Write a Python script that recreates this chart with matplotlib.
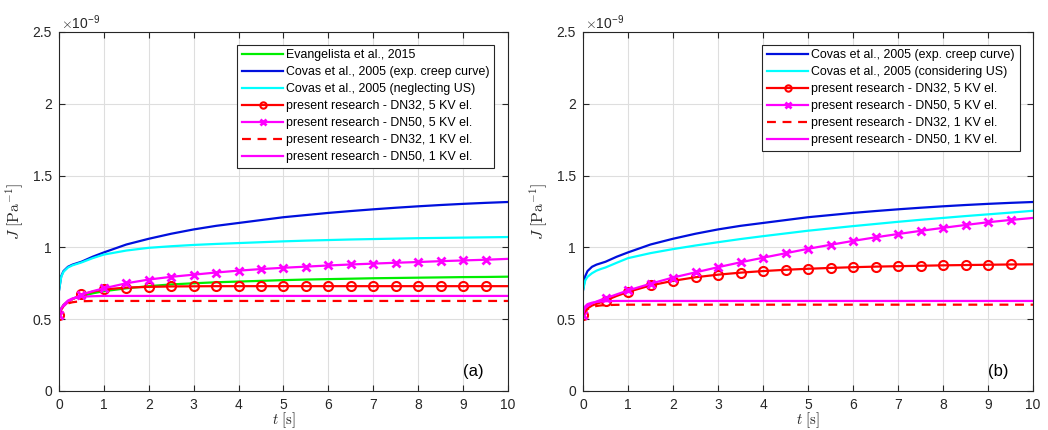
import numpy as np
import matplotlib.pyplot as plt

plt.rcParams['font.family'] = ['Liberation Sans', 'DejaVu Sans']
plt.rcParams['mathtext.fontset'] = 'cm'

# time samples [s]; compliance values in units of 1e-9 Pa^-1
t = [0, 0.05, 0.1, 0.2, 0.3, 0.4, 0.5, 0.75, 1.0, 1.5, 2.0, 2.5, 3.0, 3.5, 4.0,
     4.5, 5.0, 5.5, 6.0, 6.5, 7.0, 7.5, 8.0, 8.5, 9.0, 9.5, 10.0]
# markers every half second
mark_idx = [0, 6, 8, 9, 10, 11, 12, 13, 14, 15, 16, 17, 18, 19, 20, 21, 22, 23, 24, 25]

covas_exp = [0.70, 0.80, 0.835, 0.865, 0.88, 0.89, 0.90, 0.935, 0.965, 1.02, 1.06, 1.095,
             1.125, 1.15, 1.17, 1.19, 1.21, 1.225, 1.24, 1.253, 1.265, 1.276, 1.286,
             1.295, 1.303, 1.31, 1.316]

# panel (a)
evang_a = [0.53, 0.575, 0.60, 0.625, 0.64, 0.652, 0.66, 0.68, 0.695, 0.715, 0.73, 0.742,
           0.75, 0.757, 0.762, 0.767, 0.772, 0.776, 0.779, 0.782, 0.785, 0.787, 0.789,
           0.791, 0.793, 0.794, 0.796]
covas_neg_a = [0.70, 0.795, 0.83, 0.86, 0.875, 0.885, 0.895, 0.925, 0.95, 0.978, 0.997,
               1.008, 1.017, 1.024, 1.03, 1.036, 1.042, 1.047, 1.051, 1.055, 1.058, 1.061,
               1.064, 1.066, 1.068, 1.07, 1.072]
dn32_5_a = [0.53, 0.57, 0.59, 0.62, 0.64, 0.655, 0.672, 0.692, 0.707, 0.72, 0.725, 0.728,
            0.729, 0.73, 0.73, 0.73, 0.73, 0.73, 0.73, 0.73, 0.73, 0.73, 0.73, 0.73,
            0.73, 0.73, 0.73]
dn50_5_a = [0.53, 0.57, 0.59, 0.62, 0.64, 0.655, 0.67, 0.695, 0.715, 0.75, 0.776, 0.795,
            0.81, 0.825, 0.838, 0.849, 0.858, 0.866, 0.874, 0.881, 0.887, 0.893, 0.898,
            0.904, 0.909, 0.914, 0.92]
dn32_1_a = [0.53, 0.57, 0.59, 0.61, 0.618, 0.622, 0.625, 0.627, 0.627, 0.627, 0.627, 0.627,
            0.627, 0.627, 0.627, 0.627, 0.627, 0.627, 0.627, 0.627, 0.627, 0.627, 0.627,
            0.627, 0.627, 0.627, 0.627]
dn50_1_a = [0.53, 0.575, 0.60, 0.63, 0.645, 0.652, 0.656, 0.66, 0.662, 0.662, 0.662, 0.662,
            0.662, 0.662, 0.662, 0.662, 0.662, 0.662, 0.662, 0.662, 0.662, 0.662, 0.662,
            0.662, 0.662, 0.662, 0.662]

# panel (b)
covas_us_b = [0.70, 0.77, 0.795, 0.82, 0.838, 0.85, 0.86, 0.893, 0.925, 0.96, 0.988, 1.013,
              1.036, 1.058, 1.078, 1.097, 1.116, 1.132, 1.148, 1.163, 1.178, 1.192, 1.205,
              1.218, 1.23, 1.242, 1.255]
dn32_5_b = [0.53, 0.56, 0.575, 0.595, 0.607, 0.618, 0.63, 0.662, 0.69, 0.735, 0.767, 0.792,
            0.81, 0.824, 0.835, 0.844, 0.851, 0.857, 0.862, 0.866, 0.869, 0.872, 0.875,
            0.877, 0.879, 0.881, 0.882]
dn50_5_b = [0.53, 0.57, 0.59, 0.61, 0.623, 0.635, 0.645, 0.673, 0.70, 0.747, 0.79, 0.826,
            0.862, 0.896, 0.928, 0.959, 0.99, 1.018, 1.045, 1.07, 1.093, 1.115, 1.136,
            1.156, 1.175, 1.191, 1.205]
dn32_1_b = [0.53, 0.555, 0.57, 0.585, 0.592, 0.596, 0.598, 0.6, 0.601, 0.601, 0.601, 0.601,
            0.601, 0.601, 0.601, 0.601, 0.601, 0.601, 0.601, 0.601, 0.601, 0.601, 0.601,
            0.601, 0.601, 0.601, 0.601]
dn50_1_b = [0.53, 0.59, 0.605, 0.615, 0.62, 0.623, 0.625, 0.627, 0.627, 0.627, 0.627, 0.627,
            0.627, 0.627, 0.627, 0.627, 0.627, 0.627, 0.627, 0.627, 0.627, 0.627, 0.627,
            0.627, 0.627, 0.627, 0.627]

BLUE = '#0010dd'
CYAN = '#00ffff'
GREEN = '#00ee00'
RED = '#ff0000'
MAG = '#ff00ff'
AXC = '0.15'

fig = plt.figure(figsize=(10.48, 4.3), dpi=100)
axa = fig.add_axes([0.0563, 0.0907, 0.4284, 0.835])
axb = fig.add_axes([0.5563, 0.0907, 0.4294, 0.835])

lw = 1.6
circ = dict(marker='o', markersize=6.5, markerfacecolor='none', markeredgewidth=1.5,
            markevery=mark_idx)
cross = dict(marker='x', markersize=5.5, markeredgewidth=2.0, markevery=mark_idx)

axa.plot(t, evang_a, color=GREEN, lw=lw, label='Evangelista et al., 2015')
axa.plot(t, covas_exp, color=BLUE, lw=lw, label='Covas et al., 2005 (exp. creep curve)')
axa.plot(t, covas_neg_a, color=CYAN, lw=lw, label='Covas et al., 2005 (neglecting US)')
axa.plot(t, dn32_5_a, color=RED, lw=lw, label='present research - DN32, 5 KV el.', **circ)
axa.plot(t, dn50_5_a, color=MAG, lw=lw, label='present research - DN50, 5 KV el.', **cross)
axa.plot(t, dn32_1_a, color=RED, lw=lw, ls=(0, (4, 3)), label='present research - DN32, 1 KV el.')
axa.plot(t, dn50_1_a, color=MAG, lw=lw, label='present research - DN50, 1 KV el.')

axb.plot(t, covas_exp, color=BLUE, lw=lw, label='Covas et al., 2005 (exp. creep curve)')
axb.plot(t, covas_us_b, color=CYAN, lw=lw, label='Covas et al., 2005 (considering US)')
axb.plot(t, dn32_5_b, color=RED, lw=lw, label='present research - DN32, 5 KV el.', **circ)
axb.plot(t, dn50_5_b, color=MAG, lw=lw, label='present research - DN50, 5 KV el.', **cross)
axb.plot(t, dn32_1_b, color=RED, lw=lw, ls=(0, (4, 3)), label='present research - DN32, 1 KV el.')
axb.plot(t, dn50_1_b, color=MAG, lw=lw, label='present research - DN50, 1 KV el.')

for ax, tag in ((axa, '(a)'), (axb, '(b)')):
    ax.set_xlim(0, 10)
    ax.set_ylim(0, 2.5)
    ax.set_xticks(range(0, 11))
    ax.set_yticks([0, 0.5, 1, 1.5, 2, 2.5])
    ax.set_yticklabels(['0', '0.5', '1', '1.5', '2', '2.5'])
    ax.grid(True, color='0.87', lw=0.8)
    ax.set_axisbelow(True)
    ax.tick_params(direction='in', top=True, right=True, length=4, width=0.8,
                   colors=AXC, labelsize=10)
    ax.tick_params(axis='x', pad=5)
    ax.tick_params(axis='y', pad=5)
    for s in ax.spines.values():
        s.set_color(AXC)
        s.set_linewidth(0.8)
    ax.set_xlabel(r'$t\ [\mathrm{s}]$', fontsize=10.5, color=AXC, labelpad=-1)
    ax.set_ylabel(r'$J\ [\mathrm{Pa}^{-1}]$', fontsize=11.5, color=AXC, labelpad=5)
    ax.text(0.004, 1.0, r'$\times$10$^{\mathregular{-9}}$', transform=ax.transAxes,
            fontsize=10, color=AXC, ha='left', va='bottom')
    ax.text(0.923, 0.053, tag, transform=ax.transAxes, fontsize=12, color='k',
            ha='center', va='center')
    leg = ax.legend(loc='upper right', bbox_to_anchor=(0.97, 0.965), fontsize=8.9,
                    handlelength=3.3, handletextpad=0.25, labelspacing=0.4,
                    borderpad=0.4, borderaxespad=0, fancybox=False, framealpha=1,
                    markerscale=0.7)
    leg.get_frame().set_edgecolor('0.15')
    leg.get_frame().set_linewidth(0.8)

fig.savefig('out.png', dpi=100)
